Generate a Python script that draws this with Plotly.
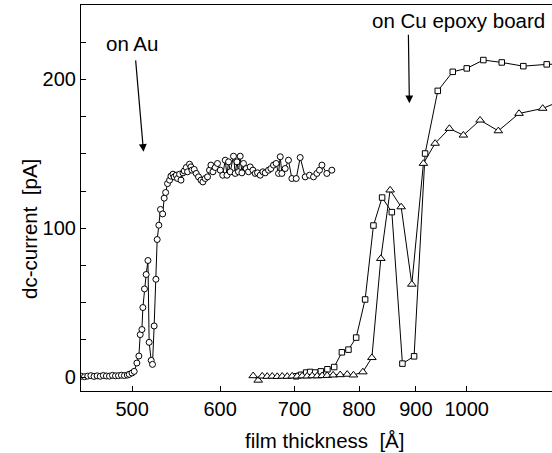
import math
import plotly.graph_objects as go

# Film growth on Au: thickness [Å] and dc-current [pA]
au_thickness = [
    450, 453, 456, 459, 462, 465, 468, 471, 474, 477, 480, 483, 486, 489, 492, 495, 497,
    499.8, 502.1, 504.9, 507.0, 508.4, 510.2, 511.2, 512.9, 514.7, 516.6, 517.9, 520.1,
    521.5, 523.3, 525.2, 526.6, 528.4, 530.2, 532.6, 534.3, 535.9, 538.0,
    540.3, 541.8, 544.1, 545.5, 547.8, 549.3, 551.6, 553.2, 555.5, 557.0, 559.3, 560.8,
    563.1, 564.7, 565.9, 568.6, 571.0, 573.7, 576.6, 578.9, 581.7, 584.5, 586.9, 588.6,
    591.1, 593.9, 596.7, 600.1, 603.2, 606.3, 608.5, 610.5, 612.6, 616.8, 619.0, 621.2,
    623.2, 625.4, 627.6, 629.7, 633.3, 636.3, 638.5, 642.1, 645.2, 648.3, 651.9, 655.5,
    658.7, 663.2, 666.5, 670.1, 673.8, 677.1, 679.5, 681.8, 686.5, 691.2, 696.1, 702.4,
    708.2, 715.6, 722.0, 728.0, 733.1, 737.1, 740.8, 748.4, 756.2,
]
au_current = [
    0.5, 0.2, 0.6, 0.9, 0.4, 0.8, 0.5, 1.0, 0.7, 0.6, 1.1, 0.8, 0.9, 1.2, 1.0, 1.3, 1.8,
    2.7, 3.8, 9.4, 14.1, 28.5, 31.9, 46.7, 59.2, 68.9, 78.3, 23.3, 11.2,
    8.5, 34.3, 65.7, 92.4, 102.0, 112.6, 109.6, 120.2, 124.0, 130.0,
    132.3, 135.0, 136.3, 134.5, 135.6, 133.4, 136.3, 132.3, 137.2, 138.5, 140.8, 137.9,
    143.0, 141.2, 139.0, 139.5, 136.8, 134.5, 132.3, 131.1, 133.4, 134.5, 139.0, 142.4,
    137.9, 140.8, 143.5, 139.0, 135.6, 145.7, 135.6, 144.6, 137.9, 148.4, 136.8, 144.6,
    137.9, 148.4, 137.2, 143.5, 140.1, 137.9, 141.2, 139.0, 136.8, 137.2, 135.6, 137.9,
    137.2, 139.0, 140.1, 142.4, 143.5, 136.8, 148.0, 136.8, 140.1, 145.7, 133.4, 133.4,
    147.5, 134.5, 135.6, 134.5, 136.8, 139.0, 142.4, 136.8, 139.0,
]

# Film growth on Cu epoxy board, first run (squares)
cu_sq_thickness = [
    702.4, 709.6, 717.0, 723.0, 730.5, 739.2, 749.3, 759.9, 772.1, 782.7, 795.3, 810.2,
    824.3, 839.2, 856.3, 875.3, 896.7, 917.4, 941.8, 971.5, 1000.1, 1035.1, 1075.3,
    1124.5, 1180.3, 1238.0,
]
cu_sq_current = [
    0.5, 1.5, 3.0, 3.4, 3.0, 3.8, 5.2, 6.7, 16.6, 18.4, 26.5, 52.1,
    101.8, 120.6, 110.8, 9.0, 13.9, 150.2, 192.3, 205.1, 207.4, 213.0, 211.4,
    208.9, 210.1, 210.5,
]

# Film growth on Cu epoxy board, second run (triangles)
cu_tri_thickness = [
    642.5, 649.2, 654.6, 661.4, 668.3, 675.3, 682.3, 689.4, 696.5, 703.8, 711.1, 718.5,
    726.0, 733.6, 741.2, 748.9, 758.3, 769.4, 780.6, 790.8, 806.4, 821.6, 837.0, 853.3,
    873.0, 892.5, 914.2, 936.6, 964.7, 993.1, 1028.1, 1067.7, 1114.5, 1170.5, 1238.0,
]
cu_tri_current = [
    0.8, -2.2, 0.6, 0.4, 0.5, 0.3, 0.5, 0.4, 0.6, 0.5, 0.7, 0.6,
    0.8, 0.7, 0.9, 1.0, 1.3, 1.5, 1.8, 1.3, 3.4, 13.0, 79.6, 125.6,
    114.3, 62.3, 143.5, 157.0, 167.0, 162.5, 172.6, 165.4, 177.1, 180.5, 188.0,
]

x_ticks = [500, 600, 700, 800, 900, 1000]
y_ticks = [0, 100, 200]

FONT = "Liberation Sans, Arial, Helvetica, sans-serif"

fig = go.Figure()


def add_series(xs, ys, symbol, size):
    fig.add_trace(go.Scatter(
        x=xs, y=ys, mode="lines+markers",
        line=dict(color="black", width=1),
        marker=dict(symbol=symbol, size=size, color="white",
                    line=dict(color="black", width=1)),
        showlegend=False, cliponaxis=True,
    ))


add_series(au_thickness, au_current, "circle", 6)
add_series(cu_sq_thickness, cu_sq_current, "square", 5.5)
add_series(cu_tri_thickness, cu_tri_current, "triangle-up", 7.5)

fig.update_layout(
    width=552, height=453,
    margin=dict(l=81, r=0, t=5, b=62),
    paper_bgcolor="white", plot_bgcolor="white",
    font=dict(family=FONT, size=20, color="black"),
    xaxis=dict(
        type="log", range=[math.log10(449.7), math.log10(1193.3)],
        tickvals=x_ticks, ticktext=[str(v) for v in x_ticks],
        ticks="inside", ticklen=5, tickwidth=1, tickcolor="black",
        showline=True, linecolor="black", linewidth=1.2, mirror=True,
        showgrid=False, zeroline=False,
        tickfont=dict(size=20),
    ),
    yaxis=dict(
        range=[-9.4, 250],
        tickvals=y_ticks,
        ticks="inside", ticklen=5, tickwidth=1, tickcolor="black",
        minor=dict(dtick=25, ticks="inside", ticklen=5, tickwidth=1,
                   tickcolor="black", showgrid=False),
        showline=True, linecolor="black", linewidth=1.2, mirror=False,
        showgrid=False, zeroline=False,
        tickfont=dict(size=20),
    ),
)

# Axis titles
fig.add_annotation(xref="paper", yref="paper", x=0.518, y=0, yanchor="middle",
                   yshift=-49, text="film thickness  [Å]", showarrow=False,
                   font=dict(size=20.5))
fig.add_annotation(xref="paper", yref="paper", x=0, y=0.42, xanchor="center",
                   xshift=-51, text="dc-current  [pA]", textangle=-90,
                   showarrow=False, font=dict(size=20.5))

# Labels with arrows pointing at the onset of conduction
fig.add_annotation(x=math.log10(500.0), y=224, text="on Au", showarrow=False,
                   font=dict(size=20.5))
fig.add_annotation(x=math.log10(511.9), y=151.3, text="", showarrow=True,
                   ax=-8, ay=-93, arrowhead=2, arrowsize=1.3, arrowwidth=1.2,
                   arrowcolor="black")
fig.add_annotation(x=math.log10(982.8), y=239.5, text="on Cu epoxy board",
                   showarrow=False, font=dict(size=20.5))
fig.add_annotation(x=math.log10(888.0), y=183.9, text="", showarrow=True,
                   ax=-1, ay=-70, arrowhead=2, arrowsize=1.3, arrowwidth=1.2,
                   arrowcolor="black")

fig.write_html("out.html")
